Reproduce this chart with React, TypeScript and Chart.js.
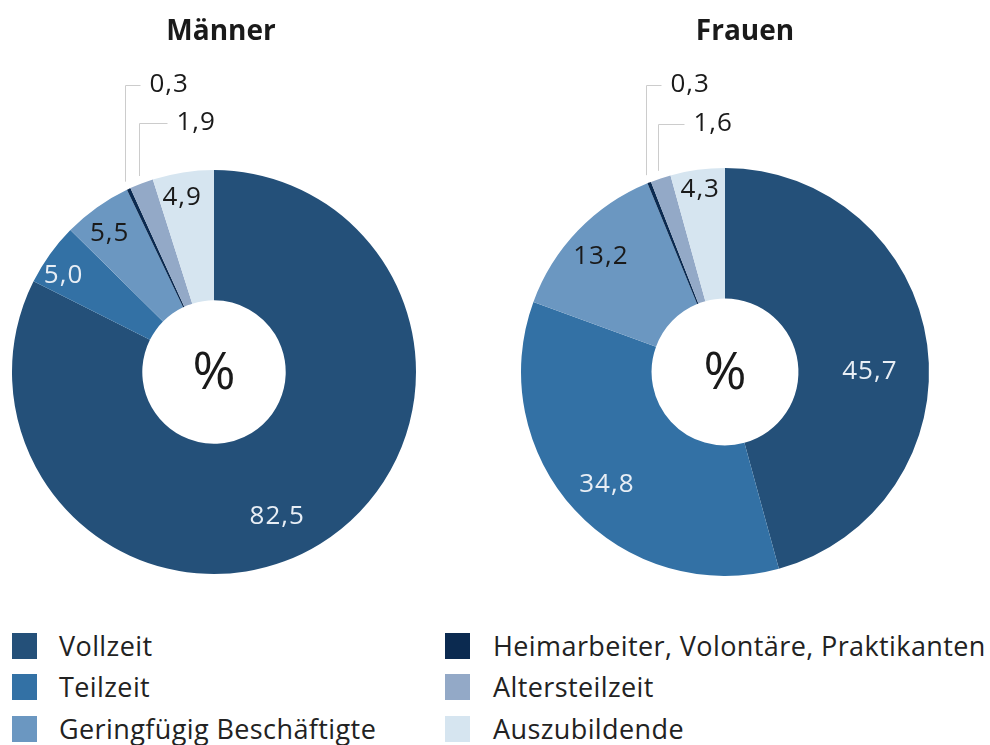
import React, { useEffect, useRef } from 'react';
import { Chart, registerables } from 'chart.js';

Chart.register(...registerables);

const categories = [
  'Vollzeit',
  'Teilzeit',
  'Geringfügig Beschäftigte',
  'Heimarbeiter, Volontäre, Praktikanten',
  'Altersteilzeit',
  'Auszubildende',
];
const maennerValues = [82.5, 5.0, 5.5, 0.3, 1.9, 4.9];
const frauenValues = [45.7, 34.8, 13.2, 0.3, 1.6, 4.3];
const chartTitles = ['Männer', 'Frauen'];
const sliceColors = ['#245079', '#3371a5', '#6b97c1', '#0b2a50', '#93a9c7', '#d6e5f0'];

const FONT = '"Open Sans", "Noto Sans", sans-serif';
const fmt = (v: number) => v.toFixed(1).replace('.', ',');

const overlayPlugin = {
  id: 'overlay',
  afterDatasetsDraw(chart: any, _args: any, opts: any) {
    const ctx = chart.ctx;
    const meta = chart.getDatasetMeta(0);
    const values = chart.data.datasets[0].data as number[];
    ctx.save();
    ctx.textBaseline = 'middle';
    ctx.textAlign = 'center';
    ctx.fillStyle = '#1a1a1a';
    ctx.font = `bold 28px ${FONT}`;
    ctx.fillText(opts.title, opts.titleX, 32);
    const a0 = meta.data[0];
    ctx.font = `52px ${FONT}`;
    ctx.fillText('%', a0.x, a0.y + 2);
    (ctx as any).letterSpacing = '1px';
    meta.data.forEach((arc: any, i: number) => {
      const p = arc.getProps(['x', 'y', 'startAngle', 'endAngle', 'outerRadius', 'innerRadius'], true);
      const mid = (p.startAngle + p.endAngle) / 2;
      const pl = opts.placements[i];
      ctx.font = `26px ${FONT}`;
      if (pl.type === 'inside') {
        const ang = mid + (pl.da * Math.PI) / 180;
        const r = p.outerRadius * pl.rf;
        ctx.fillStyle = pl.color;
        ctx.textAlign = 'center';
        ctx.fillText(fmt(values[i]), p.x + r * Math.cos(ang), p.y + r * Math.sin(ang));
      } else {
        const r = p.outerRadius + 8;
        const sx = Math.round(p.x + r * Math.cos(mid)) + 0.5;
        const sy = p.y + r * Math.sin(mid);
        ctx.strokeStyle = '#cccccc';
        ctx.lineWidth = 1;
        ctx.beginPath();
        ctx.moveTo(sx, sy);
        ctx.lineTo(sx, pl.ty + 0.5);
        ctx.lineTo(sx + pl.len, pl.ty + 0.5);
        ctx.stroke();
        ctx.fillStyle = '#1a1a1a';
        ctx.textAlign = 'left';
        ctx.fillText(fmt(values[i]), sx + pl.len + 9, pl.ty);
      }
    });
    ctx.restore();
  },
};

const maennerPlacements = [
  { type: 'inside', da: 8, rf: 0.78, color: '#e8eef5' },
  { type: 'inside', da: -3, rf: 0.885, color: '#e8eef5' },
  { type: 'inside', da: -1.5, rf: 0.86, color: '#1a1a1a' },
  { type: 'leader', ty: 85, len: 15 },
  { type: 'leader', ty: 123, len: 28 },
  { type: 'inside', da: -1.5, rf: 0.88, color: '#1a1a1a' },
];
const frauenPlacements = [
  { type: 'inside', da: 7.5, rf: 0.71, color: '#e8eef5' },
  { type: 'inside', da: -1, rf: 0.8, color: '#e8eef5' },
  { type: 'inside', da: -1, rf: 0.83, color: '#1a1a1a' },
  { type: 'leader', ty: 85, len: 15 },
  { type: 'leader', ty: 124, len: 26 },
  { type: 'inside', da: 0, rf: 0.9, color: '#1a1a1a' },
];

function Donut(props: {
  values: number[];
  title: string;
  titleX: number;
  placements: any[];
  padding: any;
  width: number;
  height: number;
  left: number;
  cutout: string;
}) {
  const ref = useRef<HTMLCanvasElement>(null);
  useEffect(() => {
    if (!ref.current) return;
    const chart = new Chart(ref.current, {
      type: 'doughnut',
      data: {
        labels: categories,
        datasets: [
          {
            data: props.values,
            backgroundColor: sliceColors,
            borderWidth: 0,
          },
        ],
      },
      options: {
        animation: false,
        responsive: false,
        devicePixelRatio: 1,
        cutout: props.cutout,
        layout: { padding: props.padding },
        plugins: {
          legend: { display: false },
          tooltip: { enabled: false },
          overlay: { title: props.title, titleX: props.titleX, placements: props.placements },
        } as any,
      },
      plugins: [overlayPlugin],
    });
    return () => chart.destroy();
  }, []);
  return (
    <canvas
      ref={ref}
      width={props.width}
      height={props.height}
      style={{ position: 'absolute', left: props.left, top: 0, width: props.width, height: props.height }}
    />
  );
}

export default function App() {
  const legendCols = [
    [0, 1, 2],
    [3, 4, 5],
  ];
  const colSquareX = [12, 445];
  const colTextX = [59, 493];
  const rowY = [646, 687, 729];
  return (
    <div
      style={{
        position: 'absolute',
        left: 0,
        top: 0,
        width: 990,
        height: 745,
        background: '#ffffff',
        overflow: 'hidden',
        fontFamily: FONT,
      }}
    >
      <Donut
        values={maennerValues}
        title={chartTitles[0]}
        titleX={221}
        placements={maennerPlacements}
        padding={{ left: 12, right: 24, top: 170, bottom: 26 }}
        width={440}
        height={600}
        left={0}
        cutout="35.5%"
      />
      <Donut
        values={frauenValues}
        title={chartTitles[1]}
        titleX={245}
        placements={frauenPlacements}
        padding={{ left: 21, right: 61, top: 168, bottom: 24 }}
        width={490}
        height={600}
        left={500}
        cutout="36%"
      />
      {legendCols.map((col, c) =>
        col.map((idx, r) => (
          <React.Fragment key={idx}>
            <div
              style={{
                position: 'absolute',
                left: colSquareX[c],
                top: rowY[r] - 13,
                width: 25,
                height: 26,
                background: sliceColors[idx],
              }}
            />
            <div
              style={{
                position: 'absolute',
                left: colTextX[c],
                top: rowY[r] - 20,
                height: 40,
                lineHeight: '40px',
                fontSize: 27,
                letterSpacing: '0.4px',
                color: '#222222',
                whiteSpace: 'nowrap',
              }}
            >
              {categories[idx]}
            </div>
          </React.Fragment>
        ))
      )}
    </div>
  );
}
